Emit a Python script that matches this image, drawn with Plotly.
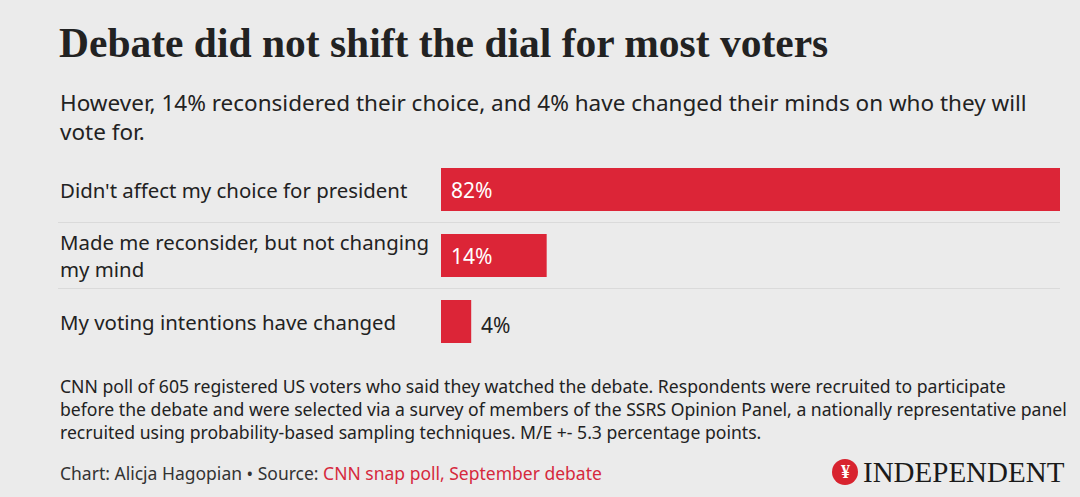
import plotly.graph_objects as go

categories = ["Didn't affect my choice for president",
              "Made me reconsider, but not changing<br>my mind",
              "My voting intentions have changed"]
values = [82, 14, 4]
value_labels = ["82%", "14%", "4%"]
label_inside = [True, True, False]

W, H = 1080, 497
BG = "#ebebeb"
RED = "#dc2537"
TXT = "#222222"

def px_x(x):
    return x / W

def px_y(y):
    return 1 - y / H

fig = go.Figure()
fig.add_trace(go.Bar(
    x=values, y=list(range(len(values))), orientation="h",
    marker=dict(color=RED, line=dict(width=0)),
    width=0.65,
    hoverinfo="skip",
))

fig.update_layout(
    width=W, height=H,
    margin=dict(l=0, r=0, t=0, b=0),
    paper_bgcolor=BG, plot_bgcolor=BG,
    showlegend=False,
    xaxis=dict(domain=[px_x(441), px_x(1060)], range=[0, 82], visible=False, fixedrange=True),
    yaxis=dict(domain=[px_y(354.5), px_y(156.5)], range=[2.5, -0.5], visible=False, fixedrange=True),
)

# value labels
for i, (v, t, ins) in enumerate(zip(values, value_labels, label_inside)):
    fig.add_annotation(x=0 if ins else v, xref="x", y=i, yref="y", text=t,
                       showarrow=False, xanchor="left", yanchor="middle",
                       xshift=8, yshift=0 if ins else -3,
                       font=dict(family="Noto Sans", size=21,
                                 color="white" if ins else TXT))

# category labels
for i, c in enumerate(categories):
    fig.add_annotation(x=px_x(58), xref="paper", y=i, yref="y", text=c,
                       showarrow=False, xanchor="left", yanchor="middle", align="left",
                       font=dict(family="Noto Sans", size=20.4, color=TXT))

# separators
for yv in [0.5, 1.5]:
    fig.add_shape(type="line", xref="paper", yref="y", x0=px_x(58), x1=px_x(1060),
                  y0=yv, y1=yv, line=dict(color="#dadada", width=1))

# title & subtitle
fig.add_annotation(x=px_x(57), y=px_y(43), xref="paper", yref="paper",
                   text="<b>Debate did not shift the dial for most voters</b>",
                   showarrow=False, xanchor="left", yanchor="middle",
                   font=dict(family="Liberation Serif", size=41.5, color=TXT))
fig.add_annotation(x=px_x(58), y=px_y(117), xref="paper", yref="paper",
                   text="However, 14% reconsidered their choice, and 4% have changed their minds on who they will<br>vote for.",
                   showarrow=False, xanchor="left", yanchor="middle", align="left",
                   font=dict(family="Noto Sans", size=22.5, color=TXT))

# footnote
fig.add_annotation(x=px_x(58), y=px_y(409), xref="paper", yref="paper",
                   text=("CNN poll of 605 registered US voters who said they watched the debate. Respondents were recruited to participate<br>"
                         "before the debate and were selected via a survey of members of the SSRS Opinion Panel, a nationally representative panel<br>"
                         "recruited using probability-based sampling techniques. M/E +- 5.3 percentage points."),
                   showarrow=False, xanchor="left", yanchor="middle", align="left",
                   font=dict(family="Noto Sans", size=17.6, color=TXT))
fig.add_annotation(x=px_x(58), y=px_y(473), xref="paper", yref="paper",
                   text="Chart: Alicja Hagopian • Source: <span style='color:#d6293d'>CNN snap poll, September debate</span>",
                   showarrow=False, xanchor="left", yanchor="middle", align="left",
                   font=dict(family="Noto Sans", size=17.5, color="#333333"))

# logo
fig.add_shape(type="circle", xref="paper", yref="paper",
              x0=px_x(832), x1=px_x(858), y0=px_y(485), y1=px_y(459),
              fillcolor="#d8232f", line=dict(width=0))
fig.add_annotation(x=px_x(845), y=px_y(472), xref="paper", yref="paper",
                   text="<b>¥</b>", showarrow=False, xanchor="center", yanchor="middle",
                   font=dict(family="Liberation Serif", size=18, color="white"))
fig.add_annotation(x=px_x(861), y=px_y(472), xref="paper", yref="paper",
                   text="INDEPENDENT", showarrow=False, xanchor="left", yanchor="middle",
                   font=dict(family="Liberation Serif", size=29, color="#1a1a1a"))

fig.write_html("out.html", config={"displayModeBar": False, "staticPlot": True},
               post_script="document.body.style.margin='0';document.body.style.overflow='hidden';")
